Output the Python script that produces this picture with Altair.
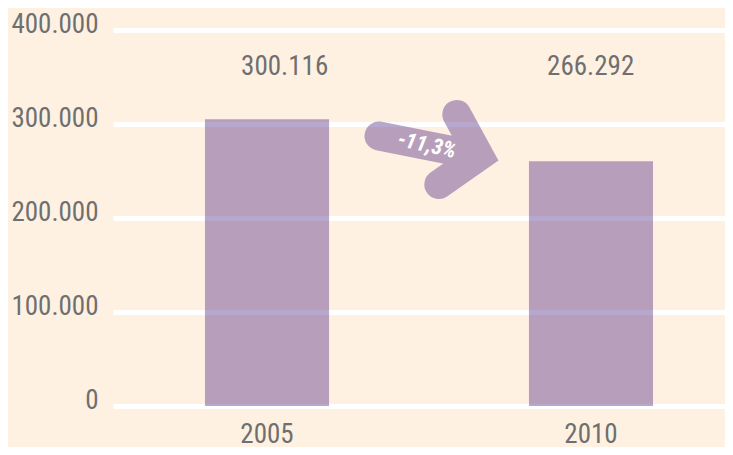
import altair as alt
import pandas as pd

# ---- data ----
years = ["2005", "2010"]
bar_values = [305000, 260500]
value_labels = ["300.116", "266.292"]
y_ticks = [0, 100000, 200000, 300000, 400000]
change_label = "-11,3%"

# arrow annotation geometry (plot-pixel space, from top-left of plot)
arrow_x = [325.8, 366.5, 343.8, None, 266.0, 366.5]
arrow_y = [154.5, 126.0, 84.5, None, 106.0, 126.0]

W, H = 612, 376
FONT = "Roboto Condensed, Noto Sans Condensed, Liberation Sans Narrow, Liberation Sans, sans-serif"
FS = 27
GRAY = "#6f6f6f"
PURPLE = "#552E88"

bars_df = pd.DataFrame({"year": years, "value": bar_values, "label": value_labels})
arrow_df = pd.DataFrame({"ax": arrow_x, "ay": arrow_y, "ord": list(range(len(arrow_x)))})

xscale = alt.Scale(paddingInner=0.617, paddingOuter=0.253, align=0.561)

bars = alt.Chart(bars_df).mark_bar(color=PURPLE, opacity=0.42).encode(
    x=alt.X("year:N", scale=xscale, sort=years,
            axis=alt.Axis(title=None, labelAngle=0, domain=False, ticks=False,
                          labelPadding=15, labelFont=FONT, labelFontSize=FS,
                          labelColor=GRAY, grid=False)),
    y=alt.Y("value:Q", scale=alt.Scale(domain=[0, 400000], nice=False),
            axis=alt.Axis(title=None, values=y_ticks, domain=False, ticks=False,
                          labelPadding=15, labelFont=FONT, labelFontSize=FS,
                          labelColor=GRAY, labelOffset=-6,
                          labelExpr="replace(format(datum.value, ','), ',', '.')",
                          grid=True, gridColor="white", gridWidth=5, gridOpacity=1)),
)

labels = alt.Chart(bars_df).mark_text(font=FONT, fontSize=FS, color=GRAY,
                                      baseline="middle", align="center").encode(
    x=alt.X("year:N", scale=xscale, sort=years, axis=None),
    y=alt.value(37),
    text="label:N",
)

arrow = alt.Chart(arrow_df).mark_line(
    color=PURPLE, strokeOpacity=0.42, strokeWidth=29,
    strokeCap="round", strokeJoin="miter", strokeMiterLimit=10,
).encode(
    x=alt.X("ax:Q", scale=alt.Scale(domain=[0, W], nice=False, zero=False), axis=None),
    y=alt.Y("ay:Q", scale=alt.Scale(domain=[0, H], nice=False, zero=False, reverse=True), axis=None),
    order="ord:Q",
)

change = alt.Chart(pd.DataFrame({"t": [change_label]})).mark_text(
    font=FONT, fontSize=22, fontWeight="bold", fontStyle="italic", color="white",
    angle=12, align="center", baseline="middle",
).encode(x=alt.value(314), y=alt.value(115), text="t:N")

chart = alt.layer(bars, labels, arrow, change).resolve_scale(
    x="independent", y="independent"
).properties(
    width=W, height=H, background="#FEF1E2",
    autosize=alt.AutoSizeParams(type="none"),
    padding={"left": 105, "top": 22, "right": 0, "bottom": 41},
).configure_view(stroke=None)

chart.save("out.html", embed_options={"renderer": "svg", "actions": False})
